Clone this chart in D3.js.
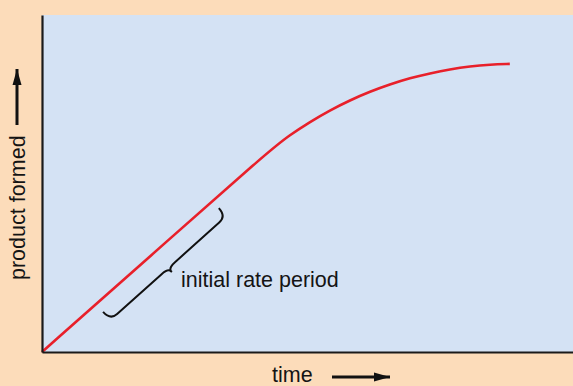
<!DOCTYPE html>
<html>
<head>
<meta charset="utf-8">
<script src="https://cdn.jsdelivr.net/npm/d3@7"></script>
<style>
html,body{margin:0;padding:0;background:#fcdcba;}
svg{display:block;}
text{font-family:"Liberation Sans",Arial,Helvetica,sans-serif;fill:#141414;}
</style>
</head>
<body>
<svg id="chart" width="573" height="386"></svg>
<script>
// Data (arbitrary units)
const time    = [0, 20, 42.9, 46.7, 50.5, 54.2, 58.0, 61.8, 65.5, 69.3, 73.1, 76.8, 80.6, 84.4, 88.1];
const product = [0, 27.9, 59.9, 64.4, 68.3, 71.7, 74.7, 77.3, 79.4, 81.3, 82.7, 83.9, 84.8, 85.3, 85.5];
const xLabel = "time";
const yLabel = "product formed";
const annotationLabel = "initial rate period";
// brace end points in data units
const braceStart = [11.5, 11.9];
const braceEnd   = [33.3, 42.7];

const W = 573, H = 386;
const m = {left: 42, top: 15, right: 0, bottom: 34};
const svg = d3.select("#chart");

const x = d3.scaleLinear().domain([0, 100]).range([m.left, W - m.right]);
const y = d3.scaleLinear().domain([0, 100]).range([H - m.bottom, m.top]);

svg.append("rect").attr("width", W).attr("height", H).attr("fill", "#fcdcba");
svg.append("rect")
  .attr("x", x(0)).attr("y", y(100))
  .attr("width", x(100) - x(0)).attr("height", y(0) - y(100))
  .attr("fill", "#d4e2f4");

// defs: arrowheads
const defs = svg.append("defs");
defs.append("marker").attr("id", "ah")
  .attr("viewBox", "0 0 16 10").attr("refX", 16).attr("refY", 5)
  .attr("markerWidth", 16).attr("markerHeight", 10)
  .attr("markerUnits", "userSpaceOnUse").attr("orient", "auto")
  .append("path").attr("d", "M0,0.5 L16,5 L0,9.5 Z").attr("fill", "#111");

// curve
const pts = time.map((t, i) => [t, product[i]]);
const line = d3.line().x(d => x(d[0])).y(d => y(d[1])).curve(d3.curveBasis);
svg.append("path").datum(pts)
  .attr("d", line).attr("fill", "none")
  .attr("stroke", "#e8202a").attr("stroke-width", 2.6)
  .attr("stroke-linecap", "butt");

// axes (domain lines only)
svg.append("g").attr("transform", `translate(0,${y(0)})`)
  .call(d3.axisBottom(x).ticks(0).tickSizeOuter(0));
svg.append("g").attr("transform", `translate(${x(0)},0)`)
  .call(d3.axisLeft(y).ticks(0).tickSizeOuter(0));
svg.selectAll(".domain").attr("stroke", "#1a1a1a").attr("stroke-width", 2.2);

// curly brace drawn in a local frame (u along, v toward tip)
function bracePath(x1, y1, x2, y2, hv, tipv, r) {
  const L = Math.hypot(x2 - x1, y2 - y1);
  const h = L / 2;
  const p = d3.path();
  p.moveTo(0, 0);
  p.quadraticCurveTo(0, hv, r, hv);
  p.lineTo(h - r, hv);
  p.quadraticCurveTo(h, hv, h, tipv);
  p.quadraticCurveTo(h, hv, h + r, hv);
  p.lineTo(L - r, hv);
  p.quadraticCurveTo(L, hv, L, 0);
  return p.toString();
}
const bx1 = x(braceStart[0]), by1 = y(braceStart[1]);
const bx2 = x(braceEnd[0]),   by2 = y(braceEnd[1]);
const ang = Math.atan2(by2 - by1, bx2 - bx1) * 180 / Math.PI;
svg.append("path")
  .attr("transform", `translate(${bx1},${by1}) rotate(${ang})`)
  .attr("d", bracePath(bx1, by1, bx2, by2, 11, 15.5, 9))
  .attr("fill", "none").attr("stroke", "#111").attr("stroke-width", 2)
  .attr("stroke-linejoin", "round");

svg.append("text").attr("x", 181).attr("y", 287)
  .attr("font-size", 21.5).text(annotationLabel);

// axis labels
svg.append("text").attr("x", 272).attr("y", 382)
  .attr("font-size", 21.5).text(xLabel);
svg.append("line").attr("x1", 332).attr("y1", 377).attr("x2", 390).attr("y2", 377)
  .attr("stroke", "#111").attr("stroke-width", 3).attr("marker-end", "url(#ah)");

svg.append("text").attr("transform", "translate(25,280) rotate(-90)")
  .attr("font-size", 21.5).text(yLabel);
svg.append("line").attr("x1", 17).attr("y1", 125).attr("x2", 17).attr("y2", 69)
  .attr("stroke", "#111").attr("stroke-width", 3).attr("marker-end", "url(#ah)");
</script>
</body>
</html>
